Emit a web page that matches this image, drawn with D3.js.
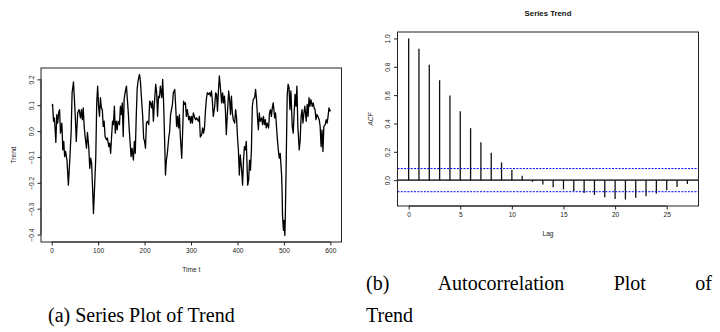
<!DOCTYPE html>
<html>
<head>
<meta charset="utf-8">
<script src="https://cdn.jsdelivr.net/npm/d3@7"></script>
<style>
  html, body { margin: 0; padding: 0; background: #fff; }
  svg { display: block; }
</style>
</head>
<body>
<svg id="chart" width="720" height="332"></svg>
<script>
// ---- Data: series plot (time index, trend value) ----
const timeT = [
  1, 2, 4, 6, 9, 11, 13, 15, 17, 19,
  22, 24, 26, 28, 30, 33, 36, 39, 42, 44,
  47, 49, 51, 53, 56, 59, 62, 64, 66, 68,
  70, 72, 75, 77, 80, 82, 84, 86, 88, 90,
  92, 95, 97, 99, 101, 103, 105, 107, 109, 111,
  113, 115, 118, 120, 123, 125, 127, 129, 131, 133,
  135, 137, 139, 141, 143, 146, 148, 150, 152, 154,
  156, 158, 161, 163, 165, 167, 169, 171, 173, 176,
  178, 180, 182, 184, 186, 189, 191, 194, 196, 198,
  200, 202, 204, 206, 209, 211, 213, 215, 217, 219,
  221, 224, 226, 228, 230, 232, 234, 237, 239, 241,
  243, 245, 247, 249, 252, 254, 256, 258, 260, 262,
  265, 267, 269, 271, 273, 275, 277, 280, 282, 284,
  286, 288, 290, 292, 295, 297, 299, 301, 303, 305,
  308, 310, 312, 314, 316, 318, 320, 323, 325, 327,
  329, 331, 333, 335, 338, 340, 342, 344, 346, 348,
  351, 353, 355, 357, 359, 361, 363, 366, 368, 370,
  372, 374, 376, 378, 381, 383, 385, 387, 389, 391,
  394, 396, 398, 400, 402, 404, 406, 409, 411, 413,
  415, 417, 419, 422, 424, 426, 428, 430, 432, 434,
  437, 439, 441, 443, 445, 447, 449, 452, 454, 456,
  458, 460, 462, 464, 467, 469, 471, 473, 475, 477,
  480, 482, 484, 486, 488, 490, 492, 495, 496, 497,
  499, 500, 502, 503, 505, 507, 509, 511, 513, 515,
  518, 520, 522, 524, 526, 528, 530, 533, 535, 537,
  539, 541, 543, 545, 548, 550, 552, 554, 556, 558,
  561, 563, 565, 567, 569, 571, 573, 576, 578, 580,
  582, 584, 586, 589, 591, 593, 595, 597, 599, 600
];
const trendV = [
  0.096, 0.103, 0.038, 0.051, -0.044, 0.064, 0.031, 0.070, 0.083, -0.008,
  0.031, -0.073, -0.040, -0.099, -0.079, -0.112, -0.209, -0.112, -0.001, 0.148,
  0.190, 0.122, 0.051, -0.040, 0.070, 0.083, 0.051, 0.083, 0.044, 0.090,
  0.018, -0.021, -0.066, -0.005, -0.066, -0.144, -0.105, -0.125, -0.216, -0.319,
  -0.235, -0.099, 0.109, 0.174, 0.096, 0.057, 0.129, 0.090, 0.083, 0.018,
  0.038, -0.021, -0.034, -0.027, -0.060, -0.047, -0.086, -0.021, 0.038, 0.025,
  0.096, -0.008, 0.038, 0.005, 0.038, 0.025, 0.096, 0.064, 0.109, -0.021,
  0.122, 0.148, 0.174, 0.122, 0.070, 0.005, -0.047, -0.099, -0.066, -0.112,
  -0.040, -0.086, 0.051, 0.161, 0.194, 0.219, 0.194, 0.109, 0.057, -0.027,
  -0.040, -0.066, 0.031, 0.038, 0.025, 0.116, 0.109, 0.090, 0.116, 0.038,
  0.103, 0.181, 0.148, 0.057, 0.135, 0.129, 0.174, 0.129, 0.200, 0.109,
  -0.021, -0.170, -0.112, -0.086, -0.027, -0.001, 0.064, 0.083, 0.103, 0.148,
  0.161, 0.096, 0.018, 0.057, 0.012, 0.064, -0.021, -0.105, -0.001, 0.116,
  0.103, 0.109, 0.057, 0.083, 0.044, 0.057, 0.031, 0.057, 0.031, 0.070,
  0.051, 0.044, 0.051, 0.044, 0.038, 0.057, -0.023, -0.014, 0.012, -0.008,
  0.012, 0.077, 0.122, 0.148, 0.142, 0.148, 0.135, 0.155, 0.116, 0.057,
  0.096, 0.148, 0.142, 0.077, 0.155, 0.213, 0.174, 0.109, 0.148, 0.109,
  0.135, 0.083, -0.014, 0.057, 0.155, 0.122, 0.064, 0.135, 0.070, 0.044,
  0.031, 0.083, 0.051, -0.021, -0.073, -0.170, -0.092, -0.151, -0.209, -0.112,
  -0.060, -0.073, -0.040, -0.209, -0.190, -0.112, -0.151, -0.073, 0.096, 0.122,
  0.129, 0.161, 0.122, 0.057, 0.005, 0.070, 0.038, 0.051, 0.025, 0.057,
  0.025, 0.044, 0.012, 0.031, 0.012, 0.070, 0.083, 0.057, 0.090, 0.109,
  0.051, 0.070, 0.018, -0.034, -0.073, -0.105, -0.086, -0.170, -0.229, -0.326,
  -0.384, -0.345, -0.404, -0.332, -0.112, 0.135, 0.181, 0.168, 0.083, 0.155,
  0.018, -0.008, 0.070, 0.142, 0.096, 0.174, 0.018, -0.073, -0.034, 0.057,
  0.083, 0.031, 0.070, 0.096, 0.038, 0.103, 0.057, 0.129, 0.096, 0.122,
  0.096, 0.109, 0.090, 0.083, 0.044, 0.064, 0.057, 0.044, 0.018, -0.060,
  0.005, -0.079, 0.018, 0.025, 0.044, 0.031, 0.057, 0.090, 0.077, 0.083
];
const seriesXTicks = [0, 100, 200, 300, 400, 500, 600];
const seriesYTicks = [-0.4, -0.3, -0.2, -0.1, 0.0, 0.1, 0.2];

// ---- Data: autocorrelation plot ----
const lags = [0,1,2,3,4,5,6,7,8,9,10,11,12,13,14,15,16,17,18,19,20,21,22,23,24,25,26,27];
const acfV = [1.0, 0.927, 0.814, 0.705, 0.598, 0.487, 0.367, 0.268, 0.193, 0.125,
  0.071, 0.031, -0.012, -0.031, -0.051, -0.066, -0.077, -0.090, -0.104, -0.120,
  -0.133, -0.137, -0.125, -0.113, -0.095, -0.072, -0.049, -0.027];
const nObs = 600;
const acfXTicks = [0, 5, 10, 15, 20, 25];
const acfYTicks = [0.0, 0.2, 0.4, 0.6, 0.8, 1.0];

const captionA = "(a) Series Plot of Trend";
const captionB1 = "(b) Autocorrelation Plot of";
const captionB2 = "Trend";

// ---- Drawing ----
const svg = d3.select("#chart");
const sans = "'Liberation Sans', Arial, Helvetica, sans-serif";
const serif = "'Liberation Serif', 'Times New Roman', serif";
const tickFs = 6.6;
const tickLen = 3.5;

function pad(ext) { const s = (ext[1] - ext[0]) * 0.04; return [ext[0] - s, ext[1] + s]; }

function rAxes(g, x, y, xt, yt, box, fmtX, fmtY) {
  // box
  g.append("rect").attr("x", box.l).attr("y", box.t)
    .attr("width", box.r - box.l).attr("height", box.b - box.t)
    .attr("fill", "none").attr("stroke", "#222").attr("stroke-width", 1);
  // x axis
  const xa = g.append("g").attr("transform", `translate(0,${box.b})`)
    .call(d3.axisBottom(x).tickValues(xt).tickSize(tickLen).tickPadding(3).tickFormat(fmtX));
  xa.select(".domain").remove();
  xa.append("line").attr("x1", x(xt[0])).attr("x2", x(xt[xt.length - 1]))
    .attr("stroke", "#222");
  xa.selectAll(".tick line").attr("stroke", "#222");
  xa.selectAll("text").attr("font-family", sans).attr("font-size", tickFs).attr("fill", "#222");
  // y axis
  const ya = g.append("g").attr("transform", `translate(${box.l},0)`)
    .call(d3.axisLeft(y).tickValues(yt).tickSize(tickLen).tickFormat(fmtY));
  ya.select(".domain").remove();
  ya.append("line").attr("y1", y(yt[0])).attr("y2", y(yt[yt.length - 1]))
    .attr("stroke", "#222");
  ya.selectAll(".tick line").attr("stroke", "#222");
  ya.selectAll(".tick text")
    .attr("font-family", sans).attr("font-size", tickFs).attr("fill", "#222")
    .attr("x", null).attr("dy", null)
    .attr("text-anchor", "middle")
    .attr("transform", "translate(-9.5,0) rotate(-90) translate(0,2.3)");
}

// ---- Left: series plot ----
{
  const box = { l: 41, r: 341.5, t: 68, b: 242 };
  const x = d3.scaleLinear().domain(pad([1, nObs])).range([box.l, box.r]);
  const y = d3.scaleLinear().domain(pad(d3.extent(trendV))).range([box.b, box.t]);
  const g = svg.append("g");
  const pts = timeT.map((t, i) => [t, trendV[i]]);
  g.append("path").datum(pts)
    .attr("d", d3.line().x(d => x(d[0])).y(d => y(d[1])))
    .attr("fill", "none").attr("stroke", "#000").attr("stroke-width", 1.3)
    .attr("stroke-linejoin", "round");
  rAxes(g, x, y, seriesXTicks, seriesYTicks, box, d3.format("d"), d3.format(".1f"));
  g.append("text").attr("x", (box.l + box.r) / 2).attr("y", 271.5)
    .attr("text-anchor", "middle").attr("font-family", sans).attr("font-size", tickFs)
    .attr("fill", "#222").text("Time t");
  g.append("text").attr("transform", `translate(16.3,${(box.t + box.b) / 2}) rotate(-90)`)
    .attr("text-anchor", "middle").attr("font-family", sans).attr("font-size", tickFs)
    .attr("fill", "#222").text("Trend");
}

// ---- Right: ACF plot ----
{
  const box = { l: 397.5, r: 698.5, t: 32, b: 206 };
  const clim = 2 / Math.sqrt(nObs);
  const x = d3.scaleLinear().domain(pad([lags[0], lags[lags.length - 1]])).range([box.l, box.r]);
  const y = d3.scaleLinear().domain(pad([Math.min(-clim, d3.min(acfV)), 1])).range([box.b, box.t]);
  const g = svg.append("g");
  // zero line
  g.append("line").attr("x1", box.l).attr("x2", box.r).attr("y1", y(0)).attr("y2", y(0))
    .attr("stroke", "#444").attr("stroke-width", 1.6);
  // spikes
  g.selectAll(".spike").data(lags).join("line").attr("class", "spike")
    .attr("x1", d => x(d)).attr("x2", d => x(d))
    .attr("y1", y(0)).attr("y2", (d, i) => y(acfV[i]))
    .attr("stroke", "#111").attr("stroke-width", 1.3);
  // confidence bounds
  [clim, -clim].forEach(c => {
    g.append("line").attr("x1", box.l).attr("x2", box.r).attr("y1", y(c)).attr("y2", y(c))
      .attr("stroke", "#0000ff").attr("stroke-width", 1).attr("stroke-dasharray", "2,1.3");
  });
  rAxes(g, x, y, acfXTicks, acfYTicks, box, d3.format("d"), d3.format(".1f"));
  g.append("text").attr("x", (box.l + box.r) / 2).attr("y", 235.5)
    .attr("text-anchor", "middle").attr("font-family", sans).attr("font-size", tickFs)
    .attr("fill", "#222").text("Lag");
  g.append("text").attr("transform", `translate(373,${(box.t + box.b) / 2}) rotate(-90)`)
    .attr("text-anchor", "middle").attr("font-family", sans).attr("font-size", tickFs)
    .attr("font-style", "italic")
    .attr("fill", "#222").text("ACF");
  g.append("text").attr("x", (box.l + box.r) / 2).attr("y", 16)
    .attr("text-anchor", "middle").attr("font-family", sans).attr("font-size", 7.8)
    .attr("font-weight", "bold").attr("fill", "#111").text("Series  Trend");
}

// ---- Captions ----
svg.append("text").attr("x", 48).attr("y", 322).attr("font-family", serif)
  .attr("font-size", 20).attr("fill", "#000").text(captionA);
const b1 = svg.append("text").attr("x", 366).attr("y", 290).attr("font-family", serif)
  .attr("font-size", 20).attr("fill", "#000").text(captionB1);
const w = b1.node().getComputedTextLength();
const nSpaces = captionB1.split(" ").length - 1;
b1.attr("word-spacing", Math.max(0, (712 - 366 - w) / nSpaces));
svg.append("text").attr("x", 366).attr("y", 322).attr("font-family", serif)
  .attr("font-size", 20).attr("fill", "#000").text(captionB2);
</script>
</body>
</html>
